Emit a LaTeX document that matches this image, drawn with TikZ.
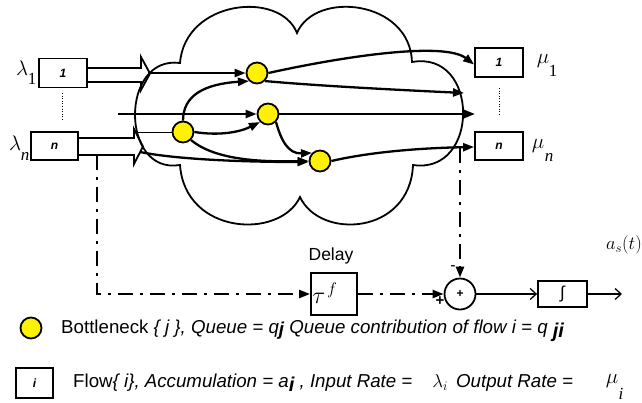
\RequirePackage{fix-cm}
\documentclass[tikz,border=0pt]{standalone}
\usepackage{fontspec}
\setmainfont{Liberation Sans}
\newfontfamily\serifface{Liberation Serif}
\usetikzlibrary{arrows.meta}

\begin{document}
\begin{tikzpicture}[x=1pt,y=-1pt,
  flowbox/.style={draw, line width=1.8pt, minimum width=48pt, minimum height=29pt,
    inner sep=0pt, font=\bfseries\itshape\fontsize{12}{12}\selectfont},
  bneck/.style={circle, draw, fill=yellow, line width=1.8pt, minimum size=21pt, inner sep=0pt},
  flow/.style={line width=2.3pt, -{Triangle[length=11pt,width=8pt]}},
  thinflow/.style={line width=1pt},
  cloudline/.style={line width=1.8pt},
  blockarrow/.style={line width=1.8pt, line join=miter},
  fbline/.style={line width=2.4pt, dash pattern=on 15pt off 7pt on 3pt off 7pt,
    -{Triangle[length=11pt,width=8pt]}},
  thinarrow/.style={line width=1.3pt, -{Straight Barb[length=6pt,width=11pt]}},
  greek/.style={font=\fontsize{21}{21}\selectfont, inner sep=0pt},
  idx/.style={font=\serifface\fontsize{17}{17}\selectfont, inner sep=0pt},
  legend/.style={font=\fontsize{18.7}{22}\selectfont, inner sep=0pt, anchor=west},
  dotsep/.style={line width=0.6pt, dotted}
]
\useasboundingbox (0,0) rectangle (642,402);

% ---------- network cloud ----------
\draw[cloudline] (180,63) .. controls (185,0) and (280,-10) .. (297,33)
  .. controls (315,-10) and (410,0) .. (412,62)
  .. controls (480,50) and (480,175) .. (413,165)
  .. controls (410,235) and (320,240) .. (300,197)
  .. controls (280,240) and (185,235) .. (180,165)
  .. controls (120,175) and (120,55) .. cycle;

% ---------- ingress / egress flows ----------
\node[flowbox] (in1) at (63,73) {1};
\node[flowbox, minimum width=47pt, minimum height=28pt] (inn) at (54.5,146) {n};
\node[flowbox] (out1) at (499,62.5) {1};
\node[flowbox, minimum height=28pt] (outn) at (499,146) {n};

\node[greek] (lam1) at (22,68) {$\lambda$};
\node[idx] (lam1i) at (32,79) {1};
\node[greek] (lamn) at (15,143) {$\lambda$};
\node[idx, font=\serifface\itshape\fontsize{17}{17}\selectfont] (lamni) at (25,156) {n};
\node[greek] (mu1) at (543,61) {$\mu$};
\node[idx] (mu1i) at (553,71) {1};
\node[greek] (mun) at (538,146) {$\mu$};
\node[idx, font=\serifface\itshape\fontsize{17}{17}\selectfont] (muni) at (549,157) {n};

\draw[dotsep] (62,93) -- (62,120);
\draw[dotsep] (499,88) -- (499,116);

% block arrows into the cloud
\draw[blockarrow] ([yshift=5pt]in1.east) -- (141,68) -- (141,57) -- (150,73.5)
  -- (141,90) -- (141,82) -- ([yshift=-9pt]in1.east);
\draw[blockarrow] ([yshift=8pt]inn.east) -- (134,138) -- (134,129) -- (143,146.5)
  -- (134,164) -- (134,155) -- ([yshift=-9pt]inn.east);

% ---------- bottlenecks ----------
\node[bneck] (B1) at (257,73) {};
\node[bneck] (B2) at (268,114) {};
\node[bneck] (B3) at (183,132) {};
\node[bneck] (B4) at (320,161) {};

\coordinate (a1) at (148,73);
\coordinate (a2) at (118,114);
\coordinate (a3) at (133,132);
\coordinate (a4) at (140,152);
\coordinate (e1) at (464,93);
\coordinate (e2) at (475,114);

% ---------- flow paths ----------
\draw[flow] (a1) -- (B1);
\draw[flow] (B1.east) .. controls (350,55) and (445,42) .. ([yshift=-2pt]out1.west);
\draw[flow] (B1.south east) .. controls (320,86) and (400,90) .. (e1);
\draw[flow] (a2) -- (B2);
\draw[flow] (B2) -- (e2);
\draw[thinflow] (a3) -- (B3);
\draw[flow] (B3.north) .. controls (183,95) and (205,84) .. (B1.south west);
\draw[flow] (B3.east) .. controls (220,136) and (240,132) .. (B2.south west);
\draw[flow] (B3.south east) .. controls (215,160) and (260,162) .. (B4.west);
\draw[flow] (a4) .. controls (180,160) and (250,162) .. ([yshift=-1pt]B4.west);
\draw[flow] (B2.south east) .. controls (281,140) and (288,154) .. (B4.north west);
\draw[flow] (B4.east) .. controls (370,152) and (420,148) .. ([yshift=-1pt]outn.west);

% ---------- accumulation feedback ----------
\node[draw, line width=1.8pt, minimum width=46pt, minimum height=42pt, inner sep=0pt]
  (delay) at (334,294) {};
\node[inner sep=0pt, font=\fontsize{24}{24}\selectfont] (tau) at (325,293) {$\tau^{\kern2pt f}$};
\node[font=\fontsize{17.5}{18}\selectfont, inner sep=0pt] (dlab) at (331,256) {Delay};
\node[circle, draw, line width=1.8pt, minimum size=31pt, inner sep=0pt,
  font=\bfseries\fontsize{12}{12}\selectfont] (sum) at (460,294) {+};
\node[draw, line width=1.8pt, minimum width=49pt, minimum height=26pt, inner sep=0pt,
  font=\fontsize{17}{17}\selectfont] (integ) at (562.5,294) {∫};
\node[inner sep=0pt, font=\fontsize{16}{16}\selectfont] (minus) at (453,268) {-};
\node[inner sep=0pt, font=\bfseries\fontsize{15}{15}\selectfont] (plus) at (440,301) {+};
\node[inner sep=0pt, font=\fontsize{18.5}{19}\selectfont, anchor=east] (aout) at (642,245) {$a_{s}(t)$};

\coordinate (fb1) at (97,155);
\coordinate (fb2) at (460,148);
\coordinate (oend) at (622,294);

\draw[fbline] (fb1) |- (delay.west);
\draw[fbline] (delay.east) -- (sum.west);
\draw[fbline] (fb2) -- (sum.north);
\draw[thinarrow] (sum.east) -- (integ.west);
\draw[thinarrow] (integ.east) -- (oend);

% ---------- key ----------
\node[bneck] (kB) at (31,328) {};
\node[legend] (k1) at (61,331) {Bottleneck \textit{\{ j \}, Queue = q\raisebox{-2pt}{\textbf{j}} Queue contribution of flow i = q \raisebox{-4pt}{\fontsize{20}{20}\selectfont\textbf{ji}}}};
\node[draw, line width=1.8pt, minimum width=37pt, minimum height=30pt, inner sep=0pt,
  font=\bfseries\itshape\fontsize{12}{12}\selectfont] (kF) at (34.5,383) {i};
\node[legend] (k2) at (73,383) {Flow\textit{\{ i\}, Accumulation = a\raisebox{-4pt}{\fontsize{20}{20}\selectfont\textbf{i}} , Input Rate =\hspace{20pt}$\lambda_{i}$\hspace{3pt} Output Rate =}};
\node[greek] (kmu) at (612,381) {$\mu$};
\node[idx, font=\serifface\itshape\fontsize{17}{17}\selectfont] (kmui) at (621,394) {i};
\end{tikzpicture}
\end{document}
